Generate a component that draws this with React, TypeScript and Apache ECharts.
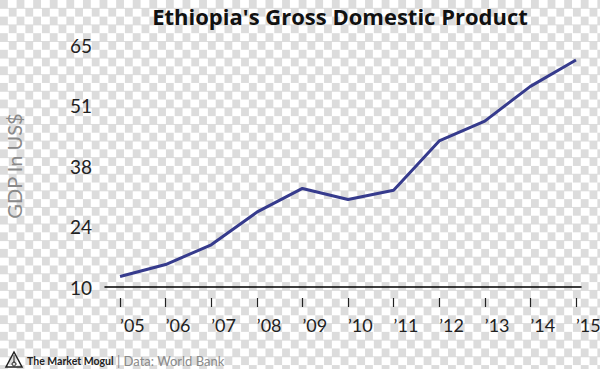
import React, { useEffect, useRef } from "react";
import * as echarts from "echarts";

const years: number[] = [2005, 2006, 2007, 2008, 2009, 2010, 2011, 2012, 2013, 2014, 2015];
const gdp: number[] = [12.4, 15.1, 19.6, 27.0, 32.4, 29.9, 32.0, 43.2, 47.7, 55.6, 61.6];
const titleText = "Ethiopia's Gross Domestic Product";
const yAxisName = "GDP In US$";
const brand = "The Market Mogul";
const source = "| Data: World Bank";

export default function App() {
  const ref = useRef<HTMLDivElement>(null);
  useEffect(() => {
    document.body.style.margin = "0";
    if (!ref.current) return;
    const chart = echarts.init(ref.current, undefined, { renderer: "svg" });
    const font = "Lato, 'Open Sans', sans-serif";
    chart.setOption({
      animation: false,
      title: {
        text: titleText,
        left: 335,
        textAlign: "center",
        top: 0,
        textStyle: { fontFamily: "'Open Sans', sans-serif", fontWeight: "bold", fontSize: 22, color: "#111" },
      },
      grid: { left: 105, right: 19, top: 45, bottom: 82, containLabel: false, outerBoundsMode: "none" },
      xAxis: [
        {
          type: "value",
          min: 2004.67,
          max: 2015.11,
          axisLine: { show: true, lineStyle: { color: "#000", width: 1.5 } },
          axisTick: { show: false },
          axisLabel: { show: false },
          splitLine: { show: false },
        },
        {
          type: "value",
          position: "bottom",
          min: 2004.67,
          max: 2015.11,
          offset: 11,
          axisLine: { show: false },
          axisTick: { show: true, customValues: years, length: 9, lineStyle: { color: "#222", width: 1.2 } },
          axisLabel: {
            show: true,
            customValues: years,
            margin: 18,
            fontSize: 18,
            fontFamily: font,
            color: "#222",
            align: "left",
            formatter: (v: number) => "\u2019" + String(Math.round(v)).slice(2),
          },
          splitLine: { show: false },
        },
      ],
      yAxis: {
        type: "value",
        min: 10,
        max: 65,
        interval: 13.75,
        axisLine: { show: false },
        axisTick: { show: false },
        splitLine: { show: false },
        axisLabel: {
          margin: 13,
          fontSize: 19,
          fontFamily: font,
          color: "#222",
          formatter: (v: number) => String(Math.round(v)),
        },
        name: yAxisName,
        nameLocation: "middle",
        nameGap: 81,
        nameTextStyle: { fontSize: 20, fontFamily: font, color: "#8a8a8a" },
      },
      series: [
        {
          type: "line",
          xAxisIndex: 0,
          data: years.map((y, i) => [y, gdp[i]]),
          showSymbol: false,
          lineStyle: { color: "#363b8d", width: 3 },
        },
      ],
      graphic: [
        {
          type: "polygon",
          shape: { points: [[14, 352], [6, 367], [22, 367]] },
          style: { fill: "none", stroke: "#222", lineWidth: 1.5 },
        },
        { type: "line", shape: { x1: 14, y1: 355, x2: 14, y2: 363 }, style: { stroke: "#222", lineWidth: 1 } },
        { type: "circle", shape: { cx: 14, cy: 364, r: 2 }, style: { fill: "none", stroke: "#222", lineWidth: 1 } },
        {
          type: "text",
          x: 27,
          y: 361,
          style: { text: brand, fontFamily: font, fontWeight: "bold", fontSize: 10.5, fill: "#222", verticalAlign: "middle" },
        },
        {
          type: "text",
          x: 117,
          y: 361,
          style: { text: source, fontFamily: font, fontSize: 13, fill: "#8a8a8a", verticalAlign: "middle" },
        },
      ],
    });
    return () => chart.dispose();
  }, []);
  return (
    <div
      style={{
        position: "absolute",
        left: 0,
        top: 0,
        width: 600,
        height: 369,
        background: "repeating-conic-gradient(#ffffff 0% 25%, #dcdcdc 0% 50%) 0 0 / 16.6px 16.6px",
      }}
    >
      <div ref={ref} style={{ width: 600, height: 369 }} />
    </div>
  );
}
